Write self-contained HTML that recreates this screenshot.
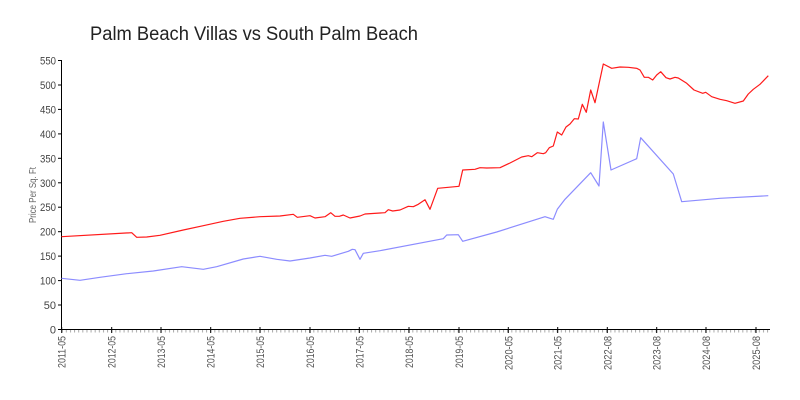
<!DOCTYPE html>
<html>
<head>
<meta charset="utf-8">
<style>
  html,body{margin:0;padding:0;background:#fff;}
  svg{display:block;}
  text{font-family:"Liberation Sans","DejaVu Sans",sans-serif;}
</style>
</head>
<body>
<svg width="800" height="400" viewBox="0 0 800 400" xmlns="http://www.w3.org/2000/svg">
  <rect x="0" y="0" width="800" height="400" fill="#fff"/>
  <defs>
    <pattern id="minor" patternUnits="userSpaceOnUse" x="61.7" y="330" width="4.125" height="3">
      <rect x="0" y="0" width="1" height="3" fill="#aaa"/>
    </pattern>
  </defs>

  <!-- Title -->
  <text x="90" y="40" font-size="19" fill="#222" textLength="328" lengthAdjust="spacingAndGlyphs" style="font-weight:300">Palm Beach Villas vs South Palm Beach</text>

  <!-- Y axis label -->
  <text transform="translate(36,195) rotate(-90)" font-size="10" fill="#666" text-anchor="middle" textLength="56" lengthAdjust="spacingAndGlyphs">Price Per Sq. Ft</text>

  <!-- minor ticks -->
  <rect x="61.7" y="330" width="708" height="2.5" fill="url(#minor)"/>

  <!-- axes -->
  <line x1="61.5" y1="60" x2="61.5" y2="330" stroke="#000" stroke-width="1"/>
  <line x1="61" y1="329.5" x2="770" y2="329.5" stroke="#000" stroke-width="1"/>

  <!-- y ticks -->
  <g stroke="#000" stroke-width="1">
    <line x1="58" y1="329.5" x2="62" y2="329.5"/>
    <line x1="58" y1="305" x2="62" y2="305"/>
    <line x1="58" y1="280.6" x2="62" y2="280.6"/>
    <line x1="58" y1="256.1" x2="62" y2="256.1"/>
    <line x1="58" y1="231.7" x2="62" y2="231.7"/>
    <line x1="58" y1="207.2" x2="62" y2="207.2"/>
    <line x1="58" y1="182.8" x2="62" y2="182.8"/>
    <line x1="58" y1="158.3" x2="62" y2="158.3"/>
    <line x1="58" y1="133.9" x2="62" y2="133.9"/>
    <line x1="58" y1="109.4" x2="62" y2="109.4"/>
    <line x1="58" y1="85" x2="62" y2="85"/>
    <line x1="58" y1="60.5" x2="62" y2="60.5"/>
  </g>
  <g font-size="11" fill="#444" text-anchor="end">
    <text x="56" y="333.5">0</text>
    <text x="56" y="309">50</text>
    <text x="56" y="284.6" textLength="16" lengthAdjust="spacingAndGlyphs">100</text>
    <text x="56" y="260.1" textLength="16" lengthAdjust="spacingAndGlyphs">150</text>
    <text x="56" y="235.7" textLength="16" lengthAdjust="spacingAndGlyphs">200</text>
    <text x="56" y="211.2" textLength="16" lengthAdjust="spacingAndGlyphs">250</text>
    <text x="56" y="186.8" textLength="16" lengthAdjust="spacingAndGlyphs">300</text>
    <text x="56" y="162.3" textLength="16" lengthAdjust="spacingAndGlyphs">350</text>
    <text x="56" y="137.9" textLength="16" lengthAdjust="spacingAndGlyphs">400</text>
    <text x="56" y="113.4" textLength="16" lengthAdjust="spacingAndGlyphs">450</text>
    <text x="56" y="89" textLength="16" lengthAdjust="spacingAndGlyphs">500</text>
    <text x="56" y="64.5" textLength="16" lengthAdjust="spacingAndGlyphs">550</text>
  </g>

  <!-- x major ticks -->
  <g stroke="#000" stroke-width="1">
    <line x1="61.7" y1="327" x2="61.7" y2="333"/>
    <line x1="111.7" y1="327" x2="111.7" y2="333"/>
    <line x1="161" y1="327" x2="161" y2="333"/>
    <line x1="210.7" y1="327" x2="210.7" y2="333"/>
    <line x1="260" y1="327" x2="260" y2="333"/>
    <line x1="310" y1="327" x2="310" y2="333"/>
    <line x1="359.3" y1="327" x2="359.3" y2="333"/>
    <line x1="409" y1="327" x2="409" y2="333"/>
    <line x1="459" y1="327" x2="459" y2="333"/>
    <line x1="508.3" y1="327" x2="508.3" y2="333"/>
    <line x1="557.7" y1="327" x2="557.7" y2="333"/>
    <line x1="607.3" y1="327" x2="607.3" y2="333"/>
    <line x1="656.7" y1="327" x2="656.7" y2="333"/>
    <line x1="706" y1="327" x2="706" y2="333"/>
    <line x1="756" y1="327" x2="756" y2="333"/>
  </g>

  <!-- x labels -->
  <g font-size="11" fill="#555" text-anchor="end">
    <text transform="translate(65.7,336) rotate(-90)" textLength="32" lengthAdjust="spacingAndGlyphs">2011-05</text>
    <text transform="translate(115.7,336) rotate(-90)" textLength="32" lengthAdjust="spacingAndGlyphs">2012-05</text>
    <text transform="translate(165,336) rotate(-90)" textLength="32" lengthAdjust="spacingAndGlyphs">2013-05</text>
    <text transform="translate(214.7,336) rotate(-90)" textLength="32" lengthAdjust="spacingAndGlyphs">2014-05</text>
    <text transform="translate(264,336) rotate(-90)" textLength="32" lengthAdjust="spacingAndGlyphs">2015-05</text>
    <text transform="translate(314,336) rotate(-90)" textLength="32" lengthAdjust="spacingAndGlyphs">2016-05</text>
    <text transform="translate(363.3,336) rotate(-90)" textLength="32" lengthAdjust="spacingAndGlyphs">2017-05</text>
    <text transform="translate(413,336) rotate(-90)" textLength="32" lengthAdjust="spacingAndGlyphs">2018-05</text>
    <text transform="translate(463,336) rotate(-90)" textLength="32" lengthAdjust="spacingAndGlyphs">2019-05</text>
    <text transform="translate(512.3,336) rotate(-90)" textLength="34" lengthAdjust="spacingAndGlyphs">2020-05</text>
    <text transform="translate(561.7,336) rotate(-90)" textLength="34" lengthAdjust="spacingAndGlyphs">2021-05</text>
    <text transform="translate(611.3,336) rotate(-90)" textLength="34" lengthAdjust="spacingAndGlyphs">2022-08</text>
    <text transform="translate(660.7,336) rotate(-90)" textLength="34" lengthAdjust="spacingAndGlyphs">2023-08</text>
    <text transform="translate(710,336) rotate(-90)" textLength="34" lengthAdjust="spacingAndGlyphs">2024-08</text>
    <text transform="translate(760,336) rotate(-90)" textLength="34" lengthAdjust="spacingAndGlyphs">2025-08</text>
  </g>

  <!-- blue series -->
  <polyline fill="none" stroke="#8c8cff" stroke-width="1.2" stroke-linejoin="round" points="
61.5,278.3 80,280.3 100,277.3 126.7,273.7 153.3,271 181.7,266.7 203.3,269.3 216.7,266.7 243.3,259 260,256.3 276.7,259.3 290,261 310,258 325,255.3 331.7,256.3 348.3,251.3 352.3,249.3 355,249.7 360,259.3 363.3,253.3 380,250.7 443.3,238.7 446.7,235 458.3,234.7 462.7,241.3 496.7,232 545,216.7 550,218.3 553.3,219.3 557.3,209.3 565,199.3 590.7,172.7 599,186 603.3,122 611,170 636.7,158.7 640.7,137.7 673.3,174 681.7,201.7 720,198.3 768.3,195.7"/>

  <!-- red series -->
  <polyline fill="none" stroke="#ff1a1a" stroke-width="1.2" stroke-linejoin="round" points="
61.5,236.7 131.7,232.7 136.7,237.3 146.7,237 160,235.3 183.3,230 203.3,225.7 223.3,221.3 240,218.3 260,216.7 280,216 293.3,214.3 297.3,217.3 310,215.7 315,218 325,216.7 330.7,212.7 335,216.3 339.3,216.3 343.3,215 350,218 360,216 365,214 385,212.7 388.3,209.7 392.7,211 400,210 408.3,206.3 413.3,206.7 418.3,204.3 425,199.7 430,209.3 437.7,188.3 459,186.3 462.7,170 475,169.3 480,167.7 486.7,168 500,167.7 510,163 521.7,157 528.3,155.7 531.7,156.7 537.3,152.7 543.3,153.7 545.7,152.7 549.3,147.7 553.3,146 557.3,132 561.7,135 566,127 570,124 574.3,118.7 578.3,119 582.3,104.3 586.3,112.3 590.7,90 595,102.7 599,84 603.3,64 611.7,68.3 620,67 628.3,67.3 636.7,68.3 640,70 644.3,77.3 648.3,77.3 652.7,80 656.7,75 660.7,71.7 666,77.7 670,79 675,77.3 678.3,78 686.7,83.3 694,90 702.7,93.3 705.7,92.3 711.7,96.7 720,99.3 726.7,100.7 735,103.3 743.3,101 748.3,94 753.3,89.3 760,84.3 768.3,75.7"/>
</svg>
</body>
</html>
